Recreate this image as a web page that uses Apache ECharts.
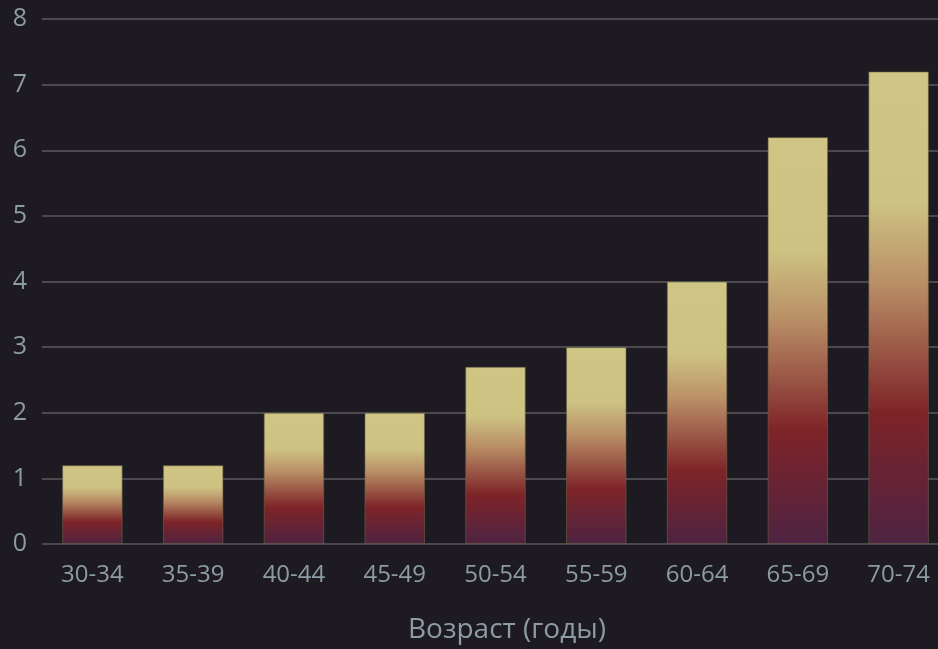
<!DOCTYPE html>
<html>
<head>
<meta charset="utf-8">
<script src="https://cdn.jsdelivr.net/npm/echarts@6/dist/echarts.min.js"></script>
<style>
  html, body { margin: 0; padding: 0; background: #1e1a21; }
  #wrap { width: 938px; height: 649px; overflow: hidden; position: relative; }
  #chart { width: 949px; height: 649px; position: absolute; left: 0; top: 0; }
</style>
</head>
<body>
<div id="wrap"><div id="chart"></div></div>
<script>
// возрастные группы
const categories = ['30-34', '35-39', '40-44', '45-49', '50-54', '55-59', '60-64', '65-69', '70-74']
const values = [1.2, 1.2, 2.0, 2.0, 2.7, 3.0, 4.0, 6.2, 7.2]
const yTicks = [0, 8, 1]

const chart = echarts.init(document.getElementById('chart'))
chart.setOption({
  backgroundColor: '#1e1a21',
  animation: false,
  textStyle: {
    fontFamily: 'Open Sans'
  },
  grid: {
    left: 42,
    right: 0,
    top: 19,
    bottom: 103
  },
  xAxis: {
    type: 'category',
    data: categories,
    name: 'Возраст (годы)',
    nameLocation: 'middle',
    nameGap: 72,
    nameTextStyle: {
      color: '#8c9ba4',
      fontSize: 28,
      padding: [0, 0, 0, 23]
    },
    axisLine: { show: false },
    axisTick: { show: false },
    axisLabel: {
      color: '#8c9ba4',
      fontSize: 24,
      margin: 19
    }
  },
  yAxis: {
    type: 'value',
    min: yTicks[0],
    max: yTicks[1],
    interval: yTicks[2],
    axisLine: { show: false },
    axisTick: { show: false },
    axisLabel: {
      color: '#8c9ba4',
      fontSize: 25,
      margin: 15,
      padding: [10, 0, 0, 0]
    },
    // линии сетки
    splitLine: {
      lineStyle: {
        color: '#4b494e',
        width: 2
      }
    }
  },
  series: [
    {
      type: 'bar',
      data: values,
      barWidth: '60%',
      itemStyle: {
        borderColor: 'rgba(110, 100, 70, 0.6)',
        borderWidth: 1,
        color: new echarts.graphic.LinearGradient(0, 0, 0, 1, [
          { offset: 0, color: '#cfc584' },
          { offset: 0.28, color: '#cdc282' },
          { offset: 0.45, color: '#b98e66' },
          { offset: 0.72, color: '#7e2428' },
          { offset: 1, color: '#4e2342' }
        ])
      }
    }
  ]
})
</script>
</body>
</html>
